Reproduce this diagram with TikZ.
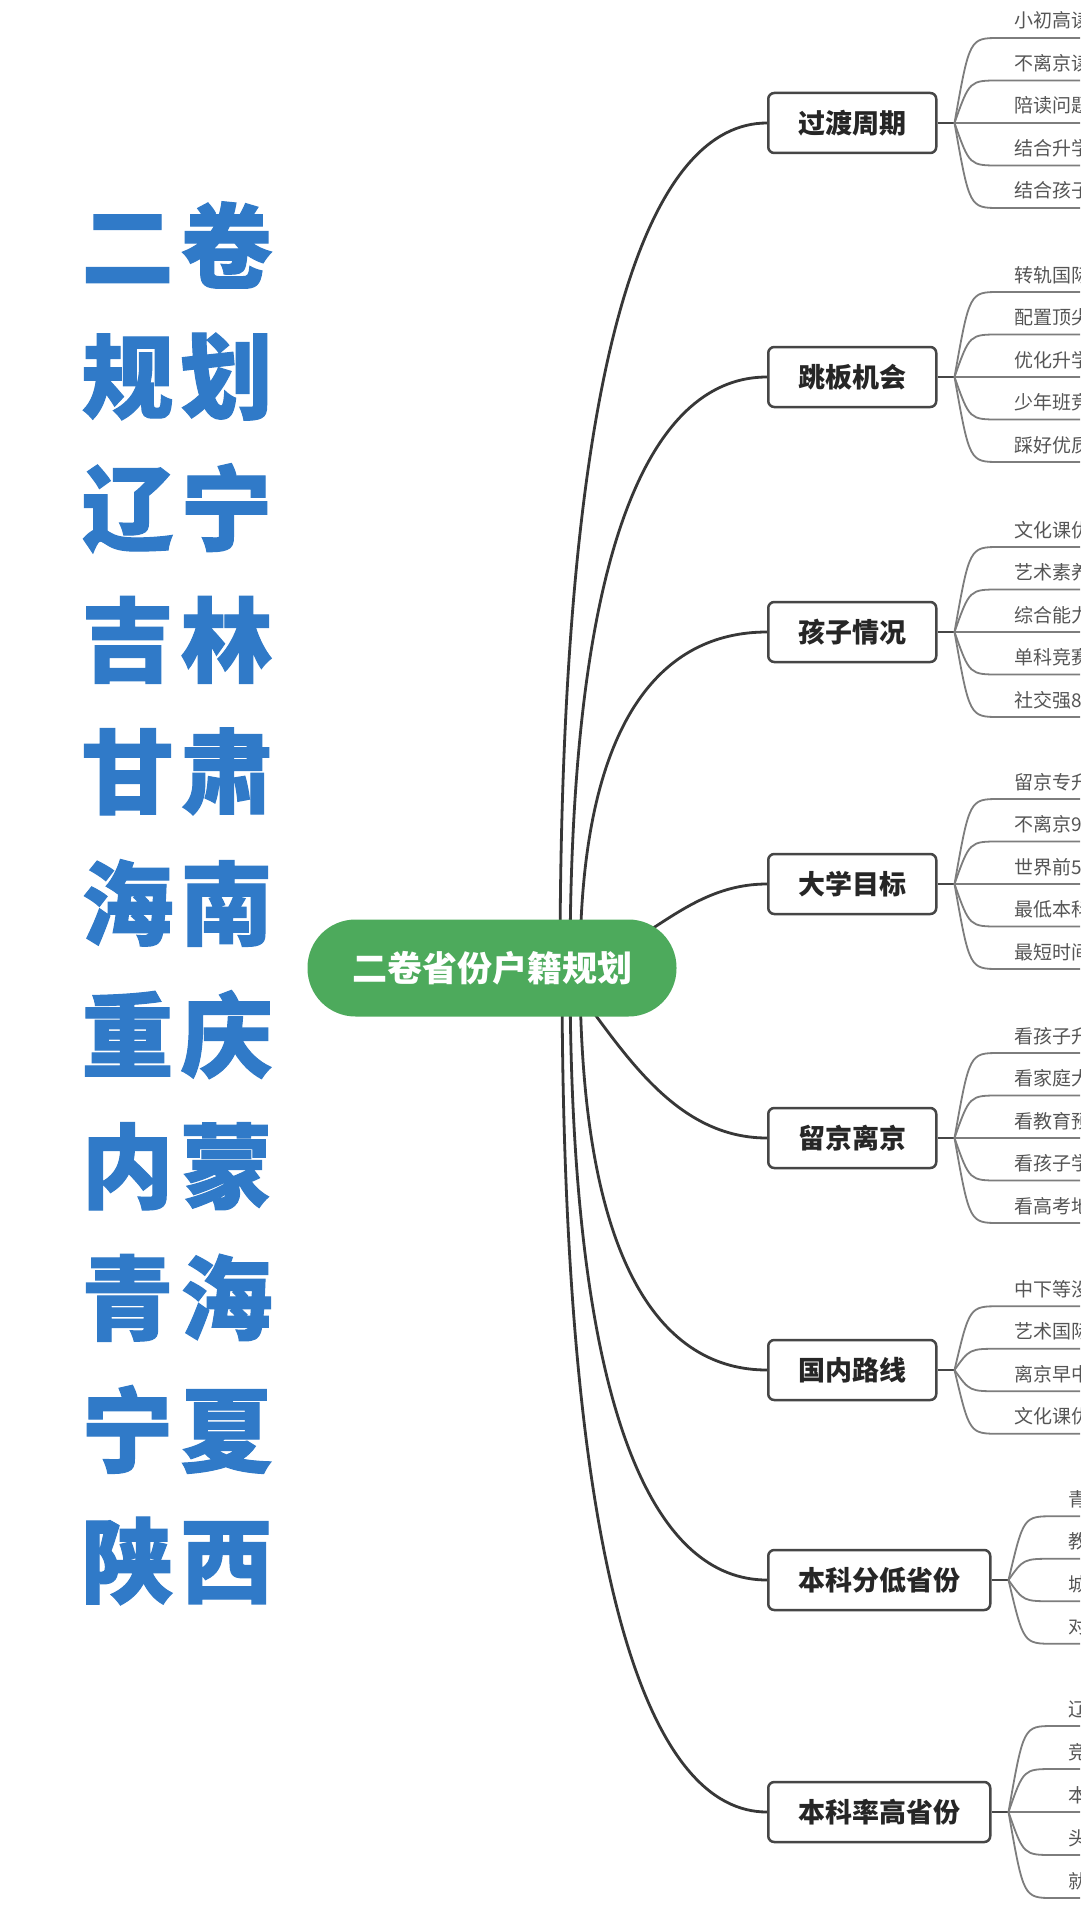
\documentclass[tikz,border=0pt]{standalone}
\usepackage{fontspec}
\setmainfont{Noto Sans CJK SC}
\newfontfamily\titlefont{Noto Sans CJK SC}[BoldFeatures={FakeBold=1.2}]
\usetikzlibrary{calc}
\definecolor{titleblue}{RGB}{48,122,200}
\definecolor{rootgreen}{RGB}{77,170,92}
\definecolor{linedark}{RGB}{55,55,55}
\definecolor{boxdark}{RGB}{70,70,70}
\definecolor{leafgray}{RGB}{85,85,85}
\definecolor{leafline}{RGB}{125,125,125}
\pgfdeclarelayer{bg}
\pgfsetlayers{bg,main}
\tikzset{
  titletext/.style={text=titleblue, font=\titlefont\fontsize{92}{92}\selectfont\bfseries, inner sep=0pt},
  rootnode/.style={fill=rootgreen, text=white, rounded corners=48pt, minimum width=369pt, minimum height=97pt, inner sep=0pt, font=\fontsize{35}{35}\selectfont\bfseries},
  branchbox/.style={draw=boxdark, line width=2.5pt, rounded corners=6pt, fill=white, text=black!85, font=\fontsize{27}{27}\selectfont\bfseries, inner xsep=30pt, inner ysep=0pt, minimum height=60pt, anchor=west},
  mainconn/.style={draw=linedark, line width=2.8pt},
  stubline/.style={draw=boxdark, line width=2pt},
  leafconn/.style={draw=leafline, line width=1.8pt},
  leaftext/.style={text=leafgray, font=\fontsize{19}{19}\selectfont, inner sep=0pt}
}
\newcommand\leafitem[4]{%
  \node[leaftext, anchor=base west] (#1) at ($(#2)+(60,#3-10)$) {#4};
  \draw[leafconn] (#2) .. controls ($(#2)+(15,#3)$) and ($(#2)+(15,#3)$) .. ($(#2)+(45,#3)$) -- ($(#2)+(220,#3)$);
}
\newcommand\mainarc[2]{%
  \draw[mainconn] (#1) .. controls ($(#1)!0.75!(#1 |- #2.west)$) and ($(#2.west)!0.55!(#1 |- #2.west)$) .. (#2.west);
}
\begin{document}
\begin{tikzpicture}[x=1pt,y=-1pt]
\useasboundingbox (0,0) rectangle (1080,1910);
\clip (0,0) rectangle (1080,1910);

% title
\node[titletext] (t1) at (177,245) {二\hspace{7pt}卷};
\node[titletext] (t2) at (177,376.6) {规\hspace{7pt}划};
\node[titletext] (t3) at (177,508.2) {辽\hspace{7pt}宁};
\node[titletext] (t4) at (177,639.8) {吉\hspace{7pt}林};
\node[titletext] (t5) at (177,771.4) {甘\hspace{7pt}肃};
\node[titletext] (t6) at (177,903) {海\hspace{7pt}南};
\node[titletext] (t7) at (177,1034.6) {重\hspace{7pt}庆};
\node[titletext] (t8) at (177,1166.2) {内\hspace{7pt}蒙};
\node[titletext] (t9) at (177,1297.8) {青\hspace{7pt}海};
\node[titletext] (t10) at (177,1429.4) {宁\hspace{7pt}夏};
\node[titletext] (t11) at (177,1561) {陕\hspace{7pt}西};

% root
\node[rootnode] (root) at (492,968) {二卷省份户籍规划};

% branch boxes
\node[branchbox] (b1) at (767,123) {过渡周期};
\node[branchbox] (b2) at (767,377) {跳板机会};
\node[branchbox] (b3) at (767,632) {孩子情况};
\node[branchbox] (b4) at (767,884) {大学目标};
\node[branchbox] (b5) at (767,1138) {留京离京};
\node[branchbox] (b6) at (767,1370) {国内路线};
\node[branchbox] (b7) at (767,1580) {本科分低省份};
\node[branchbox] (b8) at (767,1812) {本科率高省份};

% start points behind root
\coordinate (s1) at ($(root.center)+(68,0)$);
\coordinate (s2) at ($(root.center)+(78,0)$);
\coordinate (s3) at ($(root.center)+(88,0)$);
\coordinate (s4) at ($(root.center)+(68,0)$);
\coordinate (s5) at ($(root.center)+(68,0)$);
\coordinate (s6) at ($(root.center)+(88,0)$);
\coordinate (s7) at ($(root.center)+(78,0)$);
\coordinate (s8) at ($(root.center)+(70,0)$);

\begin{pgfonlayer}{bg}
\fill[white] (0,0) rectangle (1080,1910);
\clip (0,0) rectangle (1080,1910);
\mainarc{s1}{b1}
\mainarc{s2}{b2}
\mainarc{s3}{b3}
\draw[mainconn] (s4) .. controls ($(s4)+(80,-8)$) and ($(b4.west)+(-87,0)$) .. (b4.west);
\draw[mainconn] (s5) .. controls ($(s5)+(55,68)$) and ($(b5.west)+(-100,0)$) .. (b5.west);
\mainarc{s6}{b6}
\mainarc{s7}{b7}
\mainarc{s8}{b8}
\end{pgfonlayer}

% forks
\foreach \i in {1,...,8} {
  \coordinate (f\i) at ($(b\i.east)+(17,0)$);
  \draw[stubline] (b\i.east) -- (f\i);
}

% leaves
\leafitem{l11}{f1}{-85}{小初高读}
\leafitem{l12}{f1}{-42.5}{不离京读}
\leafitem{l13}{f1}{0}{陪读问题}
\leafitem{l14}{f1}{42.5}{结合升学}
\leafitem{l15}{f1}{85}{结合孩子}

\leafitem{l21}{f2}{-85}{转轨国际}
\leafitem{l22}{f2}{-42.5}{配置顶尖}
\leafitem{l23}{f2}{0}{优化升学}
\leafitem{l24}{f2}{42.5}{少年班竞}
\leafitem{l25}{f2}{85}{踩好优质}

\leafitem{l31}{f3}{-85}{文化课优}
\leafitem{l32}{f3}{-42.5}{艺术素养}
\leafitem{l33}{f3}{0}{综合能力}
\leafitem{l34}{f3}{42.5}{单科竞赛}
\leafitem{l35}{f3}{85}{社交强8}

\leafitem{l41}{f4}{-85}{留京专升}
\leafitem{l42}{f4}{-42.5}{不离京9}
\leafitem{l43}{f4}{0}{世界前5}
\leafitem{l44}{f4}{42.5}{最低本科}
\leafitem{l45}{f4}{85}{最短时间}

\leafitem{l51}{f5}{-85}{看孩子升}
\leafitem{l52}{f5}{-42.5}{看家庭大}
\leafitem{l53}{f5}{0}{看教育预}
\leafitem{l54}{f5}{42.5}{看孩子学}
\leafitem{l55}{f5}{85}{看高考地}

\leafitem{l61}{f6}{-63.75}{中下等没}
\leafitem{l62}{f6}{-21.25}{艺术国际}
\leafitem{l63}{f6}{21.25}{离京早中}
\leafitem{l64}{f6}{63.75}{文化课优}

\leafitem{l71}{f7}{-63.75}{青}
\leafitem{l72}{f7}{-21.25}{教}
\leafitem{l73}{f7}{21.25}{城}
\leafitem{l74}{f7}{63.75}{对}

\leafitem{l81}{f8}{-86}{辽}
\leafitem{l82}{f8}{-43}{竞}
\leafitem{l83}{f8}{0}{本}
\leafitem{l84}{f8}{43}{头}
\leafitem{l85}{f8}{86}{就}
\end{tikzpicture}
\end{document}
